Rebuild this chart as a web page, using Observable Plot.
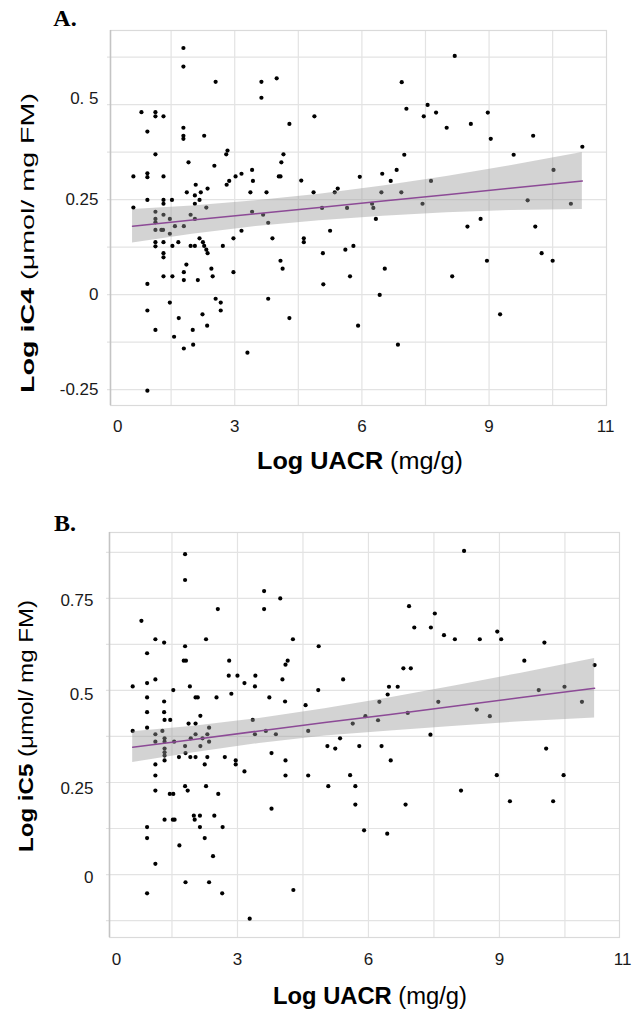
<!DOCTYPE html>
<html><head><meta charset="utf-8">
<script src="https://cdn.jsdelivr.net/npm/d3@7"></script>
<script src="https://cdn.jsdelivr.net/npm/@observablehq/plot@0.6"></script>
<style>
html,body{margin:0;padding:0;background:#fff;}
#wrap{position:relative;width:634px;height:1010px;overflow:hidden;background:#fff;}
#wrap svg{position:absolute;left:0;}
</style></head><body><div id="wrap"></div>
<script>
// ---------- Panel A : Log iC4 vs Log UACR ----------
const iC4X = [1.79,1.79,2.55,3.63,3.99,3.63,0.80,1.13,1.13,1.32,
4.88,0.94,1.79,1.79,1.79,2.28,4.29,1.13,2.83,2.80,
4.15,4.10,1.91,2.52,0.61,0.94,0.94,1.32,3.02,3.16,
3.41,3.43,2.87,2.81,2.08,2.36,2.20,1.87,2.06,2.06,
2.17,2.33,3.37,3.75,4.04,4.08,4.57,4.86,0.94,1.32,
1.32,1.52,0.61,1.13,1.13,1.32,1.47,1.96,2.06,3.41,
3.67,1.13,1.13,1.27,1.31,1.47,1.59,1.80,3.79,3.89,
3.16,2.97,4.63,4.63,1.13,1.13,1.32,1.53,1.67,1.96,
2.06,2.17,2.25,2.28,2.33,2.36,2.72,1.32,1.32,1.86,
1.80,1.80,1.32,1.53,2.13,2.45,2.48,2.97,0.94,4.08,
4.13,1.47,0.94,2.55,2.67,2.67,3.79,1.68,2.24,2.35,
4.29,1.13,2.01,1.57,1.80,2.02,3.30,0.94,
8.19,6.94,7.05,7.55,7.46,7.75,8.97,8.57,8.00,9.04,
10.04,11.20,7.00,9.58,10.52,5.95,6.48,6.82,6.68,7.63,
5.36,5.43,6.46,6.93,5.06,5.65,6.24,6.27,7.43,9.91,
10.93,6.33,8.80,5.25,5.08,5.61,5.80,5.72,5.09,6.54,
6.42,5.91,6.85,8.49,8.13,8.95,9.26,10.09,10.24,10.50];
const iC4Y = [0.649,0.600,0.560,0.560,0.569,0.518,0.480,0.480,0.469,0.469,
0.469,0.429,0.439,0.418,0.410,0.418,0.449,0.369,0.379,0.369,
0.369,0.348,0.348,0.339,0.311,0.319,0.309,0.311,0.311,0.318,
0.328,0.299,0.299,0.289,0.289,0.279,0.269,0.269,0.261,0.239,
0.249,0.229,0.269,0.269,0.311,0.311,0.300,0.269,0.249,0.249,
0.239,0.249,0.229,0.218,0.199,0.210,0.199,0.210,0.199,0.218,
0.210,0.190,0.170,0.170,0.170,0.160,0.180,0.180,0.189,0.148,
0.168,0.148,0.148,0.138,0.138,0.127,0.138,0.128,0.138,0.128,
0.128,0.148,0.138,0.128,0.118,0.109,0.128,0.109,0.098,0.079,
0.059,0.038,0.048,0.048,0.038,0.068,0.048,0.059,0.028,0.089,
0.068,-0.021,-0.042,-0.011,-0.021,-0.042,-0.011,-0.062,-0.052,-0.082,
-0.062,-0.093,-0.093,-0.111,-0.142,-0.132,-0.153,-0.253,
0.628,0.559,0.489,0.499,0.469,0.479,0.479,0.449,0.439,0.410,
0.418,0.389,0.368,0.368,0.328,0.310,0.318,0.328,0.299,0.299,
0.269,0.279,0.269,0.269,0.228,0.228,0.239,0.228,0.239,0.248,
0.239,0.199,0.199,0.168,0.109,0.118,0.128,0.048,0.027,0.068,
-0.001,-0.082,-0.132,0.179,0.048,0.089,-0.052,0.179,0.109,0.089];
const bandAX  = [0.59, 2.0, 3.5, 5.0, 6.5, 8.0, 9.5, 11.2];
const fitAY   = [0.180,0.196,0.213,0.229,0.246,0.263,0.280,0.299];
const bandALo = [0.136,0.159,0.179,0.194,0.206,0.215,0.221,0.224];
const bandAHi = [0.224,0.233,0.247,0.264,0.286,0.311,0.339,0.374];

// ---------- Panel B : Log iC5 vs Log UACR ----------
const iC5X = [1.80,1.80,3.61,3.61,3.98,2.55,0.80,1.12,1.32,2.28,
4.27,4.86,0.93,1.80,1.77,1.82,2.81,4.15,4.10,2.80,
3.00,3.41,3.16,3.40,4.03,1.12,0.93,0.60,1.53,1.91,
4.85,0.93,0.93,1.32,1.32,2.04,2.09,2.52,2.86,3.73,
4.09,4.56,2.15,1.33,1.46,0.93,0.60,1.28,1.88,2.04,
2.35,3.35,3.65,3.88,3.40,4.62,1.12,1.12,1.33,1.33,
1.55,2.04,1.93,2.20,2.31,2.35,1.33,1.33,1.33,1.33,
1.80,2.15,1.81,1.12,1.12,1.66,1.92,2.04,2.31,2.25,
2.71,2.96,2.96,3.16,3.78,4.10,4.10,4.62,5.06,1.12,
0.93,0.93,1.12,0.93,1.45,1.53,1.33,1.52,1.56,1.67,
1.80,1.86,2.00,2.02,2.14,2.14,2.25,2.28,2.56,2.47,
2.66,2.44,1.81,2.35,2.65,3.28,3.78,4.28,
8.19,6.93,7.52,7.05,7.43,7.73,7.98,8.55,8.95,9.04,
10.03,9.57,11.18,6.80,6.97,5.42,6.47,6.67,6.44,6.25,
9.90,10.49,7.60,10.89,5.64,5.93,6.22,6.90,8.48,8.78,
7.42,5.35,5.24,5.79,6.30,10.07,6.51,5.58,5.08,5.70,5.70,
6.85,5.90,6.43,8.12,8.94,9.24,10.23,10.47];
const iC5Y = [0.870,0.800,0.770,0.721,0.750,0.721,0.689,0.639,0.630,0.639,
0.639,0.620,0.601,0.620,0.581,0.581,0.581,0.581,0.570,0.540,
0.540,0.540,0.520,0.511,0.530,0.530,0.520,0.511,0.501,0.511,
0.501,0.481,0.441,0.470,0.441,0.481,0.481,0.481,0.491,0.481,
0.470,0.460,0.431,0.420,0.420,0.399,0.390,0.390,0.410,0.410,
0.399,0.420,0.390,0.381,0.381,0.390,0.381,0.361,0.370,0.361,
0.361,0.381,0.370,0.370,0.381,0.361,0.342,0.332,0.323,0.310,
0.349,0.349,0.330,0.299,0.269,0.319,0.319,0.319,0.319,0.299,
0.319,0.310,0.299,0.280,0.330,0.310,0.269,0.269,0.349,0.228,
0.129,0.099,0.029,-0.051,0.219,0.219,0.149,0.149,0.149,0.079,
0.240,0.228,0.160,0.149,0.160,0.129,0.099,0.240,0.219,0.160,
0.129,0.050,-0.021,-0.021,-0.051,-0.120,0.179,-0.042,
0.879,0.729,0.709,0.671,0.671,0.650,0.639,0.639,0.660,0.639,
0.630,0.581,0.569,0.560,0.560,0.530,0.510,0.510,0.489,0.469,
0.501,0.510,0.469,0.469,0.410,0.430,0.419,0.439,0.448,0.430,
0.380,0.370,0.342,0.349,0.349,0.342,0.310,0.270,0.240,0.240,0.190,
0.190,0.120,0.111,0.228,0.270,0.199,0.199,0.270];
const bandBX  = [0.60, 2.0, 3.5, 5.0, 6.5, 8.0, 9.5, 11.18];
const fitBY   = [0.346,0.367,0.390,0.413,0.435,0.458,0.481,0.506];
const bandBLo = [0.304,0.331,0.356,0.376,0.390,0.403,0.415,0.425];
const bandBHi = [0.388,0.403,0.424,0.450,0.480,0.513,0.547,0.587];

// ---------- axes / gridlines ----------
const xGrid = [1.5, 3, 4.5, 6, 7.5, 9, 10.5];
const xTickLabels = ["0", "3", "6", "9", "11"];
const xTickPosA = [0.24, 3, 6, 9, 11.75];
const xTickPosB = [0.23, 3, 6, 9, 11.82];
const yGridA = [-0.25,-0.125,0,0.125,0.25,0.375,0.5,0.625];
const yTickPosA = [0.516, 0.25, 0, -0.25];
const yTickLabelsA = ["0. 5", "0.25", "0", "-0.25"];
const yGridB = [-0.125,0,0.125,0.25,0.375,0.5,0.625,0.75,0.875];
const yTickPosB = [0.745, 0.489, 0.234, -0.008];
const yTickLabelsB = ["0.75", "0.5", "0.25", "0"];

const FONT = "'Liberation Sans', Arial, sans-serif";

function panel(c) {
  const pts = c.xs.map((x, i) => ({x, y: c.ys[i]}));
  const band = c.bx.map((x, i) => ({x, lo: c.lo[i], hi: c.hi[i], fit: c.fit[i]}));
  const svg = Plot.plot({
    width: 634, height: c.height,
    marginLeft: c.ml, marginRight: c.mr, marginTop: c.mt, marginBottom: c.mb,
    style: {fontFamily: FONT, fontSize: "17px", color: "#1a1a1a", background: "white"},
    x: {domain: c.xd, axis: null},
    y: {domain: c.yd, axis: null},
    marks: [
      Plot.ruleX(xGrid, {stroke: "#e3e3e3", strokeWidth: 1.2}),
      Plot.ruleY(c.yGrid, {stroke: "#e3e3e3", strokeWidth: 1.2, x1: c.xd[0] - 0.07, x2: c.xd[1]}),
      Plot.frame({stroke: "#dadada", strokeWidth: 1.2}),
      Plot.ruleX([c.xd[0]], {stroke: "#c4c4c4", strokeWidth: 1.5}),
      Plot.dot(pts, {x: "x", y: "y", r: 2.1, fill: "#000", stroke: "none"}),
      Plot.areaY(band, {x: "x", y1: "lo", y2: "hi", fill: "#9a9a9a", fillOpacity: 0.43}),
      Plot.line(band, {x: "x", y: "fit", stroke: "#8c4a96", strokeWidth: 1.5}),
      Plot.text(c.yTickPos, {y: d => d, text: (d, i) => c.yTickLabels[i], frameAnchor: "left",
        textAnchor: "end", dx: -c.ytPad, fontSize: 17, fill: "#1a1a1a"}),
      Plot.text(c.xTickPos, {x: d => d, text: (d, i) => xTickLabels[i], frameAnchor: "bottom",
        lineAnchor: "middle", dy: c.xtDy, fontSize: 17, fill: "#1a1a1a"})
    ]
  });
  const s = d3.select(svg);
  s.append("text").attr("x", 65).attr("y", c.letterY)
    .attr("font-family", "'Liberation Serif', 'Times New Roman', serif")
    .attr("font-weight", "bold").attr("font-size", 24).attr("fill", "#000").text(c.letter);
  const yt = s.append("text")
    .attr("transform", `translate(${c.ytX},${c.ytY}) rotate(-90)`)
    .attr("text-anchor", "middle").attr("font-family", FONT).attr("font-size", c.ytSize)
    .attr("fill", "#000").attr("textLength", c.ytLen).attr("lengthAdjust", "spacingAndGlyphs");
  yt.append("tspan").attr("font-weight", "bold").text(c.yTitleBold + " ");
  yt.append("tspan").text(c.yTitleRest);
  const xt = s.append("text").attr("x", c.xtX).attr("y", c.xtY)
    .attr("text-anchor", "middle").attr("font-family", FONT).attr("font-size", c.xtSize)
    .attr("fill", "#000").attr("textLength", c.xtLen).attr("lengthAdjust", "spacingAndGlyphs");
  xt.append("tspan").attr("font-weight", "bold").text("Log UACR ");
  xt.append("tspan").text("(mg/g)");
  svg.style.top = c.top + "px";
  return svg;
}

const wrap = document.getElementById("wrap");
wrap.appendChild(panel({
  xs: iC4X, ys: iC4Y, bx: bandAX, lo: bandALo, hi: bandAHi, fit: fitAY,
  height: 480, top: 0, ml: 110, mr: 28, mt: 30, mb: 75,
  xd: [0.07, 11.77], yd: [-0.292, 0.695], yGrid: yGridA,
  yTickPos: yTickPosA, yTickLabels: yTickLabelsA, ytPad: 12,
  xTickPos: xTickPosA, xtDy: 21,
  letter: "A.", letterY: 26,
  yTitleBold: "Log iC4", yTitleRest: "(μmol/ mg FM)", ytX: 34, ytY: 243, ytSize: 19, ytLen: 300,
  xtX: 360, xtY: 469, xtSize: 23, xtLen: 206
}));
wrap.appendChild(panel({
  xs: iC5X, ys: iC5Y, bx: bandBX, lo: bandBLo, hi: bandBHi, fit: fitBY,
  height: 530, top: 480, ml: 109, mr: 15, mt: 52, mb: 73,
  xd: [0.069, 11.75], yd: [-0.171, 0.929], yGrid: yGridB,
  yTickPos: yTickPosB, yTickLabels: yTickLabelsB, ytPad: 16,
  xTickPos: xTickPosB, xtDy: 22,
  letter: "B.", letterY: 51,
  yTitleBold: "Log iC5", yTitleRest: "(μmol/ mg FM)", ytX: 33, ytY: 246, ytSize: 21, ytLen: 252,
  xtX: 370, xtY: 524, xtSize: 23, xtLen: 194
}));
</script></body></html>
